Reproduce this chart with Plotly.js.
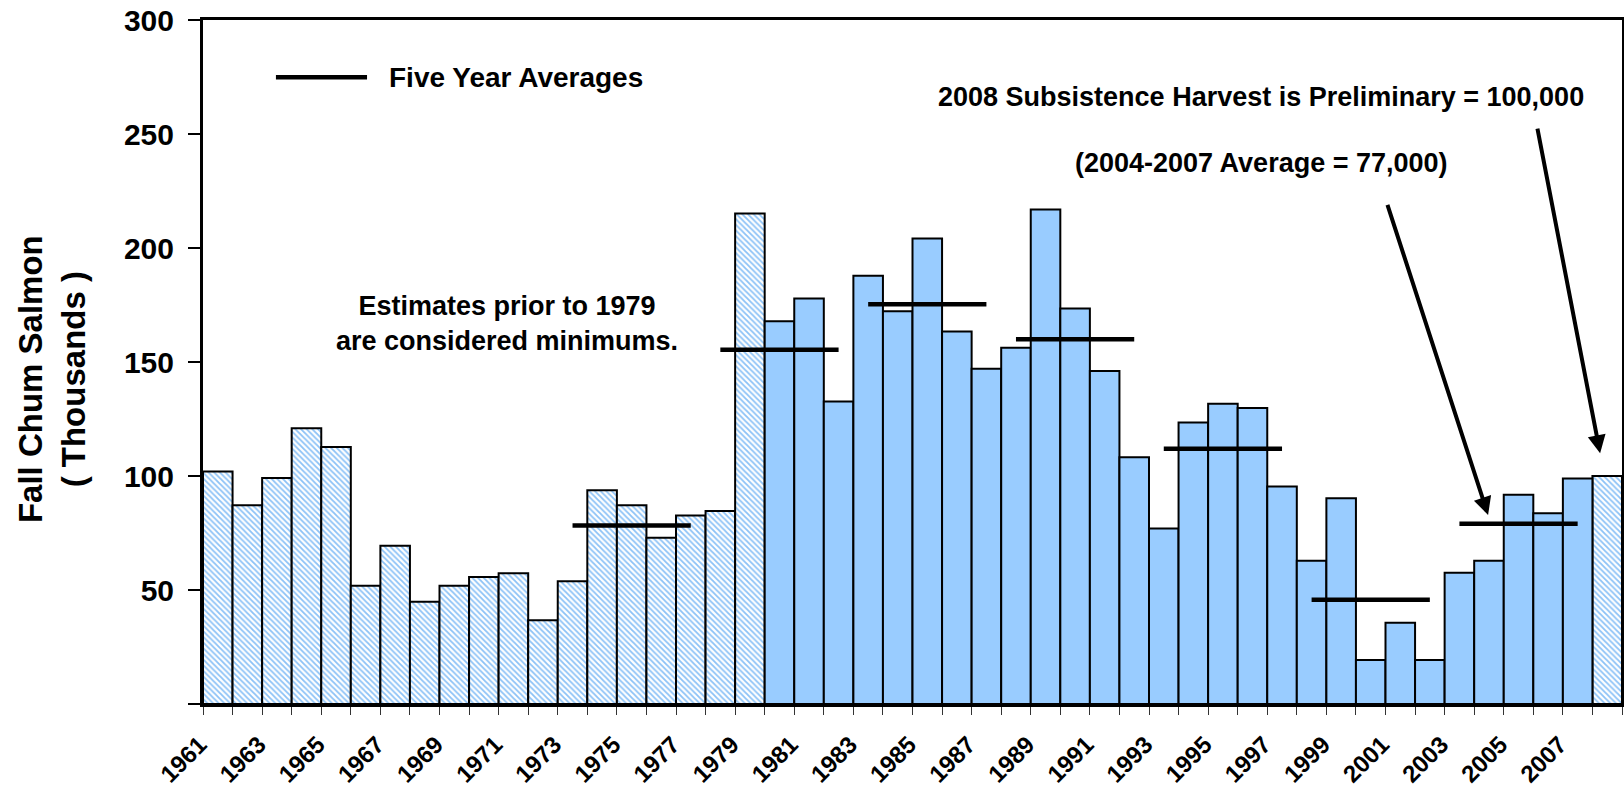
<!DOCTYPE html>
<html>
<head>
<meta charset="utf-8">
<script src="https://cdn.plot.ly/plotly-3.0.1.min.js"></script>
<style>
  html, body { margin: 0; padding: 0; background: #ffffff; }
  #chart { width: 1624px; height: 792px; }
</style>
</head>
<body>
<div id="chart"></div>
<script>
// ---- Data (thousands of fall chum salmon, subsistence harvest) ----
const years = [1961, 1962, 1963, 1964, 1965, 1966, 1967, 1968, 1969, 1970,
               1971, 1972, 1973, 1974, 1975, 1976, 1977, 1978, 1979, 1980,
               1981, 1982, 1983, 1984, 1985, 1986, 1987, 1988, 1989, 1990,
               1991, 1992, 1993, 1994, 1995, 1996, 1997, 1998, 1999, 2000,
               2001, 2002, 2003, 2004, 2005, 2006, 2007, 2008];
const harvest = [102, 87.2, 99.1, 120.9, 112.7, 51.9, 69.4, 44.9, 51.9, 55.7,
                 57.4, 36.7, 53.8, 93.8, 87.2, 72.9, 82.7, 84.6, 215.1, 167.9,
                 177.8, 132.7, 187.8, 172.3, 204.2, 163.4, 147, 156.2, 216.9, 173.5,
                 146.1, 108.2, 77, 123.5, 131.7, 129.8, 95.4, 62.8, 90.2, 19.3,
                 35.6, 19.3, 57.6, 62.8, 91.8, 83.7, 98.9, 100];
// Years whose bars are hatched (minimum estimates before 1980, preliminary 2008)
const hatchedYears = [1961, 1962, 1963, 1964, 1965, 1966, 1967, 1968, 1969, 1970,
                      1971, 1972, 1973, 1974, 1975, 1976, 1977, 1978, 1979, 2008];
// Five-year average segments
const avgStartYears = [1973, 1978, 1983, 1988, 1993, 1998, 2003];
const avgEndYears   = [1977, 1982, 1987, 1992, 1997, 2002, 2007];
const avgValues     = [78.3, 155.4, 175.3, 160.0, 111.9, 45.7, 79.1];
// Tick labels
const labelYears = [1961, 1963, 1965, 1967, 1969, 1971, 1973, 1975, 1977, 1979,
                    1981, 1983, 1985, 1987, 1989, 1991, 1993, 1995, 1997, 1999,
                    2001, 2003, 2005, 2007];
const yTickVals = [0, 50, 100, 150, 200, 250, 300];
const yTickText = ['', '50', '100', '150', '200', '250', '300'];

// ---- Build traces ----
const FONT = 'Liberation Sans, Arial, Helvetica, sans-serif';
const hx = [], hy = [], sx = [], sy = [];
years.forEach((yr, i) => {
  if (hatchedYears.includes(yr)) { hx.push(yr); hy.push(harvest[i]); }
  else { sx.push(yr); sy.push(harvest[i]); }
});

const avgX = [], avgY = [];
avgStartYears.forEach((s, i) => {
  avgX.push(s, avgEndYears[i], null);
  avgY.push(avgValues[i], avgValues[i], null);
});

const traces = [
  {
    type: 'bar', x: hx, y: hy, width: 1, name: 'Minimum / preliminary',
    marker: {
      color: '#ffffff',
      pattern: { shape: '\\', fgcolor: '#8cc2f7', bgcolor: '#ffffff', size: 4, solidity: 0.45, fillmode: 'replace' },
      line: { color: '#000000', width: 2 }
    },
    showlegend: false, hoverinfo: 'x+y'
  },
  {
    type: 'bar', x: sx, y: sy, width: 1, name: 'Harvest',
    marker: { color: '#99ccff', line: { color: '#000000', width: 2 } },
    showlegend: false, hoverinfo: 'x+y'
  },
  {
    type: 'scatter', mode: 'lines', x: avgX, y: avgY, name: 'Five Year Averages',
    line: { color: '#000000', width: 4.5 }, connectgaps: false,
    showlegend: false, hoverinfo: 'skip'
  }
];

const layout = {
  width: 1624, height: 792,
  margin: { l: 203, r: 2, t: 20, b: 88, pad: 0 },
  paper_bgcolor: '#ffffff', plot_bgcolor: '#ffffff',
  font: { family: FONT, color: '#000000' },
  barmode: 'overlay', bargap: 0,
  xaxis: {
    range: [1960.5, 2008.5],
    tickmode: 'array', tickvals: labelYears, ticktext: labelYears.map(String),
    tickangle: -45, ticks: '',
    tickfont: { family: FONT, size: 24, weight: 'bold', color: '#000000' },
    ticklabelstandoff: 14, ticklabelshift: -18,
    showline: true, linecolor: '#000000', linewidth: 3, mirror: true,
    showgrid: false, zeroline: false,
    minor: { ticks: 'outside', tickmode: 'linear', tick0: 1960.5, dtick: 1,
             ticklen: 8, tickwidth: 1, tickcolor: '#333333', showgrid: false }
  },
  yaxis: {
    range: [0, 300],
    tickmode: 'array', tickvals: yTickVals, ticktext: yTickText,
    ticks: 'outside', ticklen: 12, tickwidth: 2, tickcolor: '#000000',
    tickfont: { family: FONT, size: 30, weight: 'bold', color: '#000000' },
    ticklabelstandoff: 8,
    showline: true, linecolor: '#000000', linewidth: 3, mirror: true,
    showgrid: false, zeroline: false
  },
  shapes: [
    { type: 'line', xref: 'paper', yref: 'paper', x0: 0.0514, x1: 0.1156, y0: 0.9163, y1: 0.9163,
      line: { color: '#000000', width: 4.5 } }
  ],
  annotations: [
    { xref: 'paper', yref: 'paper', x: -0.1064, y: 0.475, xanchor: 'center', yanchor: 'middle',
      textangle: -90, align: 'center',
      text: 'Fall Chum Salmon<br>( Thousands )', showarrow: false,
      font: { family: FONT, size: 33, weight: 'bold', color: '#000000' } },
    { xref: 'paper', yref: 'paper', x: 0.1297, y: 0.9163, xanchor: 'left', yanchor: 'middle',
      text: 'Five Year Averages', showarrow: false,
      font: { family: FONT, size: 28, weight: 'bold', color: '#000000' } },
    { xref: 'paper', yref: 'paper', x: 0.2142, y: 0.5557, xanchor: 'center', yanchor: 'middle',
      text: 'Estimates prior to 1979<br>are considered minimums.', showarrow: false, align: 'center',
      font: { family: FONT, size: 27, weight: 'bold', color: '#000000' } },
    { xref: 'paper', yref: 'paper', x: 0.7456, y: 0.887, xanchor: 'center', yanchor: 'middle',
      text: '2008 Subsistence Harvest is Preliminary = 100,000', showarrow: false,
      font: { family: FONT, size: 27, weight: 'bold', color: '#000000' } },
    { xref: 'paper', yref: 'paper', x: 0.7456, y: 0.791, xanchor: 'center', yanchor: 'middle',
      text: '(2004-2007 Average = 77,000)', showarrow: false,
      font: { family: FONT, size: 27, weight: 'bold', color: '#000000' } },
    { xref: 'x', yref: 'y', axref: 'x', ayref: 'y', x: 2003.97, y: 82.9, ax: 2000.55, ay: 219.6,
      text: '', showarrow: true, arrowhead: 2, arrowsize: 0.9, arrowwidth: 4, arrowcolor: '#000000', standoff: 0 },
    { xref: 'x', yref: 'y', axref: 'x', ayref: 'y', x: 2007.76, y: 110, ax: 2005.63, ay: 253,
      text: '', showarrow: true, arrowhead: 2, arrowsize: 0.9, arrowwidth: 4, arrowcolor: '#000000', standoff: 0 }
  ]
};

Plotly.newPlot('chart', traces, layout, { staticPlot: true, displayModeBar: false });
</script>
</body>
</html>
